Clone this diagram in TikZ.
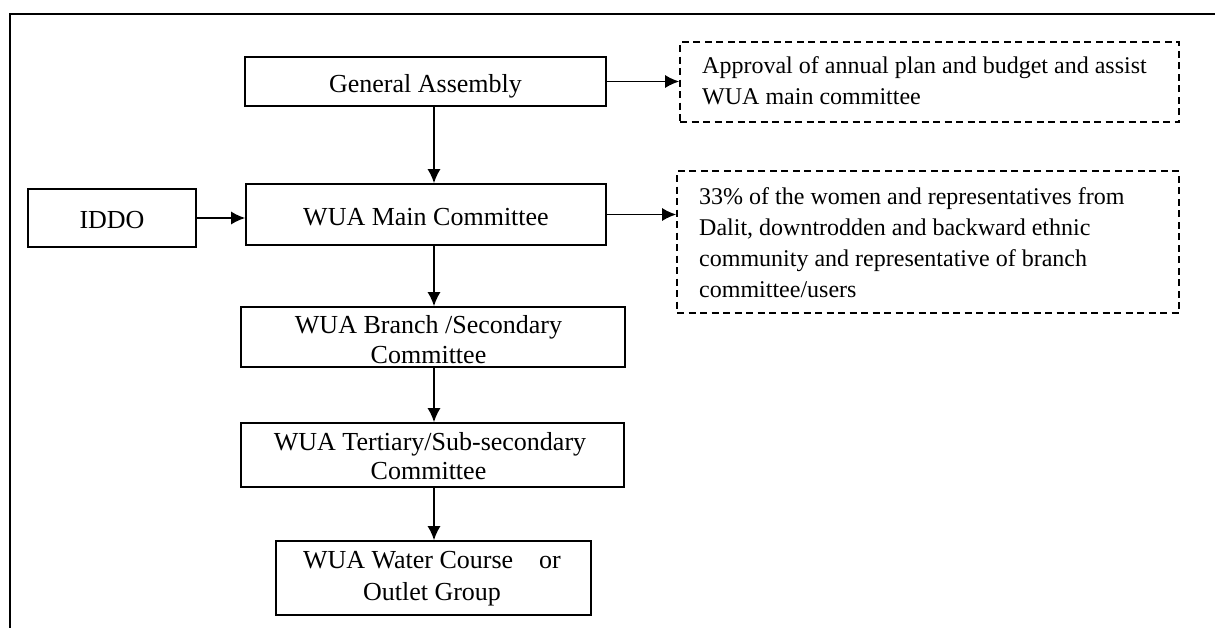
\documentclass[tikz,border=0pt]{standalone}
\usepackage{fontspec}
\setmainfont{Liberation Serif}
\usetikzlibrary{arrows.meta}
\newcommand\bxfont{\fontsize{26}{30}\selectfont}
\newcommand\ntfont{\fontsize{24}{31}\selectfont}
\begin{document}
\begin{tikzpicture}[x=1pt,y=-1pt,
  box/.style={draw, line width=1.6pt, inner sep=0pt},
  note/.style={draw, line width=1.6pt, dash pattern=on 7pt off 4.5pt, inner sep=0pt},
  lbl/.style={font=\bxfont, anchor=base, inner sep=0pt},
  ntxt/.style={font=\ntfont, anchor=base west, inner sep=0pt},
  arr/.style={line width=1.6pt, -{Latex[length=14pt,width=13pt]}}]
\useasboundingbox (0,0) rectangle (1215,627);
\clip (0,0) rectangle (1215,627);

% outer frame (runs past the page on the right and bottom)
\draw[line width=2.4pt] (1240,14) -| (10,660);

% organisation boxes
\node[box, minimum width=361pt, minimum height=49pt] (ga)     at (425.5,81.5) {};
\node[box, minimum width=360pt, minimum height=61pt] (main)   at (426,214.5) {};
\node[box, minimum width=168pt, minimum height=58pt] (iddo)   at (112,218) {};
\node[box, minimum width=384pt, minimum height=60pt] (branch) at (433,337) {};
\node[box, minimum width=383pt, minimum height=64pt] (tert)   at (432.5,455) {};
\node[box, minimum width=315pt, minimum height=74pt] (water)  at (433.5,578) {};

% remark boxes
\node[note, minimum width=499pt, minimum height=80pt]  (note1) at (929.5,82) {};
\node[note, minimum width=502pt, minimum height=142pt] (note2) at (928,242) {};

% box labels
\node[lbl] (tga)  at (425.5,92.5) {General Assembly};
\node[lbl] (tmain) at (426,225) {WUA Main Committee};
\node[lbl] (tiddo) at (112,228) {IDDO};
\node[lbl] (tbr1) at (428.5,333) {WUA Branch /Secondary};
\node[lbl] (tbr2) at (428.5,363) {Committee};
\node[lbl] (tte1) at (430,450) {WUA Tertiary/Sub-secondary};
\node[lbl] (tte2) at (428.5,479) {Committee};
\node[lbl] (twa1) at (432,568) {WUA Water Course~~~~or};
\node[lbl] (twa2) at (432,600) {Outlet Group};

% remark texts
\node[ntxt] (n1a) at (702,73) {Approval of annual plan and budget and assist};
\node[ntxt] (n1b) at (702,104) {WUA main committee};
\node[ntxt] (n2a) at (699,204) {33\% of the women and representatives from};
\node[ntxt] (n2b) at (699,235) {Dalit, downtrodden and backward ethnic};
\node[ntxt] (n2c) at (699,266.5) {community and representative of branch};
\node[ntxt] (n2d) at (699,297.5) {committee/users};

% connectors
\coordinate (spine) at (434,0);
\draw[arr] (ga.south -| spine) -- (main.north -| spine);
\draw[arr] (main.south -| spine) -- (branch.north -| spine);
\draw[arr] (branch.south -| spine) -- (tert.north -| spine);
\draw[arr] (tert.south -| spine) -- (water.north -| spine);
\draw[arr] (iddo.east) -- (iddo.east -| main.west);
\draw[arr] (ga.east) -- (ga.east -| note1.west);
\draw[arr] (main.east) -- (main.east -| note2.west);
\end{tikzpicture}
\end{document}
